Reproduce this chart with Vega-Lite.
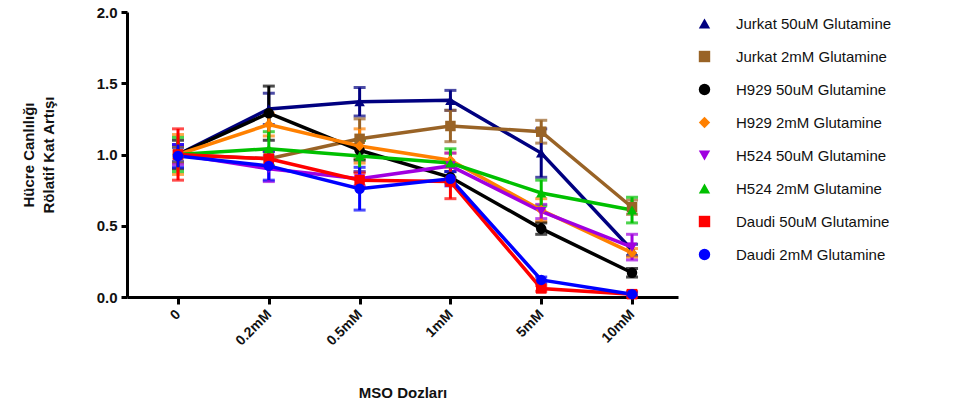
{
  "$schema": "https://vega.github.io/schema/vega-lite/v6.json",
  "width": 551,
  "height": 285,
  "autosize": {"type": "none"},
  "padding": {"left": 127, "top": 12, "right": 298, "bottom": 113},
  "config": {
    "view": {"stroke": null},
    "font": "Liberation Sans",
    "axis": {"domainColor": "#000", "tickColor": "#000", "labelColor": "#111", "titleColor": "#111", "grid": false, "domainWidth": 3, "tickWidth": 3, "labelFontWeight": "bold", "titleFontWeight": "bold"}
  },
  "data": {
    "values": [
      {"series": "Jurkat 50uM Glutamine", "dose": "0", "mean": 1.00, "err": 0.05},
      {"series": "Jurkat 50uM Glutamine", "dose": "0.2mM", "mean": 1.32, "err": 0.11},
      {"series": "Jurkat 50uM Glutamine", "dose": "0.5mM", "mean": 1.37, "err": 0.10},
      {"series": "Jurkat 50uM Glutamine", "dose": "1mM", "mean": 1.38, "err": 0.07},
      {"series": "Jurkat 50uM Glutamine", "dose": "5mM", "mean": 1.01, "err": 0.17},
      {"series": "Jurkat 50uM Glutamine", "dose": "10mM", "mean": 0.33, "err": 0.04},
      {"series": "Jurkat 2mM Glutamine", "dose": "0", "mean": 1.00, "err": 0.06},
      {"series": "Jurkat 2mM Glutamine", "dose": "0.2mM", "mean": 0.97, "err": 0.05},
      {"series": "Jurkat 2mM Glutamine", "dose": "0.5mM", "mean": 1.11, "err": 0.14},
      {"series": "Jurkat 2mM Glutamine", "dose": "1mM", "mean": 1.20, "err": 0.11},
      {"series": "Jurkat 2mM Glutamine", "dose": "5mM", "mean": 1.16, "err": 0.08},
      {"series": "Jurkat 2mM Glutamine", "dose": "10mM", "mean": 0.63, "err": 0.05},
      {"series": "H929 50uM Glutamine", "dose": "0", "mean": 1.00, "err": 0.10},
      {"series": "H929 50uM Glutamine", "dose": "0.2mM", "mean": 1.29, "err": 0.19},
      {"series": "H929 50uM Glutamine", "dose": "0.5mM", "mean": 1.03, "err": 0.07},
      {"series": "H929 50uM Glutamine", "dose": "1mM", "mean": 0.84, "err": 0.04},
      {"series": "H929 50uM Glutamine", "dose": "5mM", "mean": 0.48, "err": 0.04},
      {"series": "H929 50uM Glutamine", "dose": "10mM", "mean": 0.17, "err": 0.03},
      {"series": "H929 2mM Glutamine", "dose": "0", "mean": 1.00, "err": 0.14},
      {"series": "H929 2mM Glutamine", "dose": "0.2mM", "mean": 1.21, "err": 0.08},
      {"series": "H929 2mM Glutamine", "dose": "0.5mM", "mean": 1.06, "err": 0.12},
      {"series": "H929 2mM Glutamine", "dose": "1mM", "mean": 0.96, "err": 0.05},
      {"series": "H929 2mM Glutamine", "dose": "5mM", "mean": 0.61, "err": 0.08},
      {"series": "H929 2mM Glutamine", "dose": "10mM", "mean": 0.31, "err": 0.03},
      {"series": "H524 50uM Glutamine", "dose": "0", "mean": 1.00, "err": 0.07},
      {"series": "H524 50uM Glutamine", "dose": "0.2mM", "mean": 0.90, "err": 0.09},
      {"series": "H524 50uM Glutamine", "dose": "0.5mM", "mean": 0.83, "err": 0.05},
      {"series": "H524 50uM Glutamine", "dose": "1mM", "mean": 0.92, "err": 0.09},
      {"series": "H524 50uM Glutamine", "dose": "5mM", "mean": 0.60, "err": 0.05},
      {"series": "H524 50uM Glutamine", "dose": "10mM", "mean": 0.35, "err": 0.09},
      {"series": "H524 2mM Glutamine", "dose": "0", "mean": 1.00, "err": 0.12},
      {"series": "H524 2mM Glutamine", "dose": "0.2mM", "mean": 1.04, "err": 0.12},
      {"series": "H524 2mM Glutamine", "dose": "0.5mM", "mean": 0.99, "err": 0.11},
      {"series": "H524 2mM Glutamine", "dose": "1mM", "mean": 0.94, "err": 0.10},
      {"series": "H524 2mM Glutamine", "dose": "5mM", "mean": 0.73, "err": 0.09},
      {"series": "H524 2mM Glutamine", "dose": "10mM", "mean": 0.61, "err": 0.09},
      {"series": "Daudi 50uM Glutamine", "dose": "0", "mean": 1.00, "err": 0.18},
      {"series": "Daudi 50uM Glutamine", "dose": "0.2mM", "mean": 0.97, "err": 0.06},
      {"series": "Daudi 50uM Glutamine", "dose": "0.5mM", "mean": 0.82, "err": 0.05},
      {"series": "Daudi 50uM Glutamine", "dose": "1mM", "mean": 0.81, "err": 0.12},
      {"series": "Daudi 50uM Glutamine", "dose": "5mM", "mean": 0.06, "err": 0.02},
      {"series": "Daudi 50uM Glutamine", "dose": "10mM", "mean": 0.02, "err": 0.02},
      {"series": "Daudi 2mM Glutamine", "dose": "0", "mean": 0.99, "err": 0.08},
      {"series": "Daudi 2mM Glutamine", "dose": "0.2mM", "mean": 0.92, "err": 0.10},
      {"series": "Daudi 2mM Glutamine", "dose": "0.5mM", "mean": 0.76, "err": 0.15},
      {"series": "Daudi 2mM Glutamine", "dose": "1mM", "mean": 0.83, "err": 0.05},
      {"series": "Daudi 2mM Glutamine", "dose": "5mM", "mean": 0.12, "err": 0.02},
      {"series": "Daudi 2mM Glutamine", "dose": "10mM", "mean": 0.02, "err": 0.01}
    ]
  },
  "encoding": {
    "x": {
      "field": "dose", "type": "ordinal",
      "sort": ["0", "0.2mM", "0.5mM", "1mM", "5mM", "10mM"],
      "scale": {"type": "point", "padding": 0.534, "align": 0.526},
      "axis": {"title": "MSO Dozları", "labelAngle": -45, "labelFontSize": 14, "labelAlign": "right", "labelBaseline": "middle", "tickSize": 7, "labelPadding": 8, "titleFontSize": 15, "titlePadding": 38}
    },
    "y": {
      "field": "mean", "type": "quantitative",
      "scale": {"domain": [0, 2], "nice": false},
      "axis": {"title": ["Hücre Canlılığı", "Rölatif Kat Artışı"], "values": [0, 0.5, 1, 1.5, 2], "format": ".1f", "labelFontSize": 15, "tickSize": 6, "labelPadding": 4, "titleFontSize": 15, "titlePadding": 40, "titleLineHeight": 20}
    },
    "color": {
      "field": "series", "type": "nominal",
      "sort": ["Jurkat 50uM Glutamine", "Jurkat 2mM Glutamine", "H929 50uM Glutamine", "H929 2mM Glutamine", "H524 50uM Glutamine", "H524 2mM Glutamine", "Daudi 50uM Glutamine", "Daudi 2mM Glutamine"],
      "scale": {
        "domain": ["Jurkat 50uM Glutamine", "Jurkat 2mM Glutamine", "H929 50uM Glutamine", "H929 2mM Glutamine", "H524 50uM Glutamine", "H524 2mM Glutamine", "Daudi 50uM Glutamine", "Daudi 2mM Glutamine"],
        "range": ["#000080", "#996326", "#000000", "#ff8000", "#a000e0", "#00c000", "#ff0000", "#0000ff"]
      },
      "legend": {"title": null, "orient": "none", "legendX": 570, "legendY": 4, "labelFontSize": 15, "labelFont": "Liberation Sans", "labelColor": "#111", "symbolSize": 130, "symbolOpacity": 1, "symbolStrokeWidth": 0, "rowPadding": 17, "labelOffset": 24, "labelLimit": 300}
    }
  },
  "layer": [
    {
      "mark": {"type": "errorbar", "ticks": {"size": 12}, "thickness": 3},
      "encoding": {
        "yError": {"field": "err"}
      }
    },
    {
      "mark": {"type": "line", "strokeWidth": 3.5}
    },
    {
      "mark": {"type": "point", "filled": true, "size": 110, "opacity": 1},
      "encoding": {
        "shape": {
          "field": "series", "type": "nominal",
          "sort": ["Jurkat 50uM Glutamine", "Jurkat 2mM Glutamine", "H929 50uM Glutamine", "H929 2mM Glutamine", "H524 50uM Glutamine", "H524 2mM Glutamine", "Daudi 50uM Glutamine", "Daudi 2mM Glutamine"],
          "scale": {
            "domain": ["Jurkat 50uM Glutamine", "Jurkat 2mM Glutamine", "H929 50uM Glutamine", "H929 2mM Glutamine", "H524 50uM Glutamine", "H524 2mM Glutamine", "Daudi 50uM Glutamine", "Daudi 2mM Glutamine"],
            "range": ["triangle-up", "square", "circle", "diamond", "triangle-down", "triangle-up", "square", "circle"]
          },
          "legend": {"title": null, "orient": "none", "legendX": 570, "legendY": 4, "labelFontSize": 15, "labelFont": "Liberation Sans", "labelColor": "#111", "symbolSize": 130, "symbolOpacity": 1, "symbolStrokeWidth": 0, "rowPadding": 17, "labelOffset": 24, "labelLimit": 300}
        }
      }
    }
  ]
}
